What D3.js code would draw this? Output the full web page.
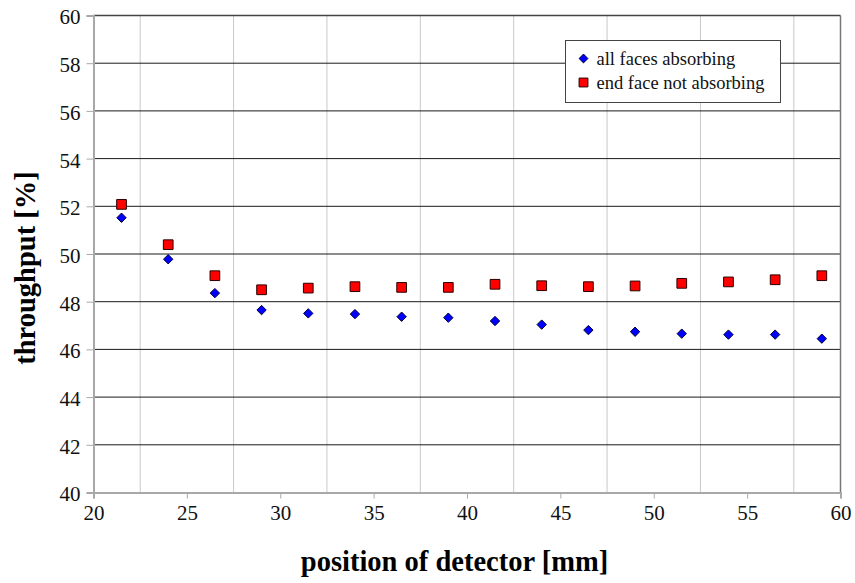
<!DOCTYPE html>
<html>
<head>
<meta charset="utf-8">
<script src="https://cdn.jsdelivr.net/npm/d3@7"></script>
<style>
  html, body { margin: 0; padding: 0; background: #fff; }
  svg { display: block; }
  svg text { font-family: 'Liberation Serif', 'Times New Roman', serif; }
</style>
</head>
<body>
<div id="chart"></div>
<script>
// detector positions [mm]
const positions = [21.5, 24, 26.5, 29, 31.5, 34, 36.5, 39, 41.5, 44, 46.5, 49, 51.5, 54, 56.5, 59];
// throughput [%]
const allFaces = [51.52, 49.78, 48.36, 47.65, 47.51, 47.48, 47.37, 47.33, 47.19, 47.04, 46.81, 46.74, 46.66, 46.62, 46.62, 46.45];
const endFaceOpen = [52.08, 50.39, 49.09, 48.50, 48.57, 48.63, 48.60, 48.60, 48.73, 48.67, 48.63, 48.66, 48.77, 48.83, 48.92, 49.09];
const xTicks = [20, 25, 30, 35, 40, 45, 50, 55, 60];
const xGrid = [22.5, 27.5, 32.5, 37.5, 42.5, 47.5, 52.5, 57.5];
const yTicks = [40, 42, 44, 46, 48, 50, 52, 54, 56, 58, 60];
const seriesNames = ["all faces absorbing", "end face not absorbing"];

const serif = "'Liberation Serif', 'Times New Roman', serif";
const width = 855, height = 583;
const margin = { top: 15.5, right: 14.5, bottom: 90.5, left: 93.5 };

const svg = d3.select("#chart").append("svg")
  .attr("width", width)
  .attr("height", height);

const x = d3.scaleLinear().domain([20, 60]).range([margin.left, width - margin.right]);
const y = d3.scaleLinear().domain([40, 60]).range([height - margin.bottom, margin.top]);

// vertical grid (between the labelled ticks)
svg.append("g")
  .selectAll("line")
  .data(xGrid)
  .enter().append("line")
  .attr("x1", d => x(d)).attr("x2", d => x(d))
  .attr("y1", y(40)).attr("y2", y(60))
  .attr("stroke", "#c8c8c8")
  .attr("stroke-width", 1);

// horizontal grid
svg.append("g")
  .selectAll("line")
  .data(yTicks.filter(d => d > 40 && d < 60))
  .enter().append("line")
  .attr("x1", x(20)).attr("x2", x(60))
  .attr("y1", d => y(d)).attr("y2", d => y(d))
  .attr("stroke", "#1a1a1a")
  .attr("stroke-width", 1);

// frame
svg.append("line")
  .attr("x1", x(20)).attr("x2", x(60)).attr("y1", y(60)).attr("y2", y(60))
  .attr("stroke", "#444").attr("stroke-width", 1.5);
svg.append("line")
  .attr("x1", x(60)).attr("x2", x(60)).attr("y1", y(60)).attr("y2", y(40))
  .attr("stroke", "#777").attr("stroke-width", 1.5);

// axes
const xAxis = svg.append("g")
  .attr("transform", `translate(0,${y(40)})`)
  .call(d3.axisBottom(x).tickValues(xTicks).tickSize(6).tickPadding(7).tickFormat(d3.format("d")));
const yAxis = svg.append("g")
  .attr("transform", `translate(${x(20)},0)`)
  .call(d3.axisLeft(y).tickValues(yTicks).tickSize(7).tickPadding(6).tickFormat(d3.format("d")));

[xAxis, yAxis].forEach(g => {
  g.attr("font-family", serif).attr("font-size", 21);
  g.select(".domain").attr("stroke", "#a8a8a8").attr("stroke-width", 2);
  g.selectAll(".tick line").attr("stroke", "#a8a8a8");
  g.selectAll(".tick text").attr("fill", "#111");
});
yAxis.selectAll(".tick text").attr("dy", "0.4em");

// points
const diamond = d3.symbol().type(d3.symbolDiamond2).size(56);
const square = d3.symbol().type(d3.symbolSquare2).size(120);

svg.append("g")
  .selectAll("path")
  .data(positions.map((p, i) => [p, endFaceOpen[i]]))
  .enter().append("path")
  .attr("d", square)
  .attr("transform", d => `translate(${x(d[0])},${y(d[1])})`)
  .attr("fill", "#ff0000")
  .attr("stroke", "#2a0000")
  .attr("stroke-width", 1);

svg.append("g")
  .selectAll("path")
  .data(positions.map((p, i) => [p, allFaces[i]]))
  .enter().append("path")
  .attr("d", diamond)
  .attr("transform", d => `translate(${x(d[0])},${y(d[1])})`)
  .attr("fill", "#0000ff")
  .attr("stroke", "#000033")
  .attr("stroke-width", 1);

// axis titles
svg.append("text")
  .attr("x", 454.5)
  .attr("y", 571)
  .attr("text-anchor", "middle")
  .attr("font-family", serif)
  .attr("font-size", 28.5)
  .attr("font-weight", "bold")
  .attr("fill", "#000")
  .text("position of detector [mm]");

svg.append("text")
  .attr("transform", `translate(35,268) rotate(-90)`)
  .attr("text-anchor", "middle")
  .attr("font-family", serif)
  .attr("font-size", 28.5)
  .attr("font-weight", "bold")
  .attr("fill", "#000")
  .text("throughput [%]");

// legend
const legend = svg.append("g").attr("transform", "translate(565.5,40.5)");
legend.append("rect")
  .attr("width", 215).attr("height", 62)
  .attr("fill", "#fff")
  .attr("stroke", "#444")
  .attr("stroke-width", 1);

const items = legend.selectAll("g.item")
  .data(seriesNames)
  .enter().append("g")
  .attr("class", "item")
  .attr("transform", (d, i) => `translate(0,${18 + i * 24})`);

items.append("path")
  .attr("d", (d, i) => i === 0 ? d3.symbol().type(d3.symbolDiamond2).size(50)() : d3.symbol().type(d3.symbolSquare2).size(100)())
  .attr("transform", "translate(18,0)")
  .attr("fill", (d, i) => i === 0 ? "#0000ff" : "#ff0000")
  .attr("stroke", (d, i) => i === 0 ? "#000033" : "#2a0000");

items.append("text")
  .attr("x", 31)
  .attr("y", 6)
  .attr("font-family", serif)
  .attr("font-size", 18.5)
  .attr("fill", "#111")
  .text(d => d);
</script>
</body>
</html>
